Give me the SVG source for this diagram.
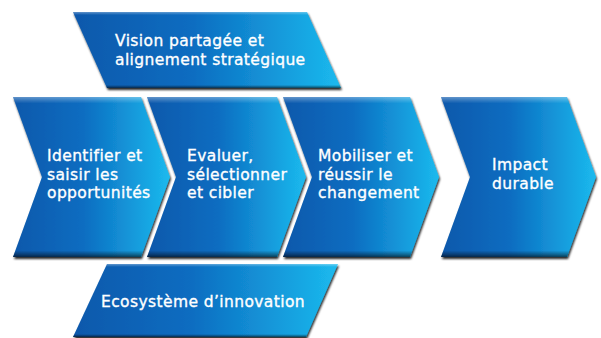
<svg xmlns="http://www.w3.org/2000/svg" width="601" height="338" viewBox="0 0 601 338">
<defs>
<linearGradient id="fill" x1="0" y1="0" x2="1" y2="0">
<stop offset="0" stop-color="#0a58ab"/>
<stop offset="0.45" stop-color="#0c6dc1"/>
<stop offset="1" stop-color="#1bbaee"/>
</linearGradient>
<linearGradient id="bevel" x1="0" y1="0" x2="0" y2="1">
<stop offset="0" stop-color="#ffffff" stop-opacity="0.35"/>
<stop offset="0.025" stop-color="#ffffff" stop-opacity="0.12"/>
<stop offset="0.04" stop-color="#ffffff" stop-opacity="0"/>
<stop offset="0.96" stop-color="#000000" stop-opacity="0"/>
<stop offset="0.985" stop-color="#000000" stop-opacity="0.35"/>
<stop offset="1" stop-color="#000000" stop-opacity="0.6"/>
</linearGradient>
<filter id="shadow" x="-5%" y="-5%" width="115%" height="115%">
<feDropShadow dx="1" dy="2" stdDeviation="0.8" flood-color="#000" flood-opacity="0.85"/>
</filter>
</defs>
<style>
.shape{fill:url(#fill);filter:url(#shadow);}
.bev{fill:url(#bevel);}
text{font-family:"DejaVu Sans","Liberation Sans",sans-serif;font-size:15.5px;letter-spacing:0.4px;fill:#ffffff;stroke:#ffffff;stroke-width:0.35px;}
</style>
<g id="vision">
<polygon class="shape" points="73,12 307,12 341,88 107,88"/>
<polygon class="bev" points="73,12 307,12 341,88 107,88"/>
<text x="115" y="46">Vision partagée et<tspan x="115" dy="18.5">alignement stratégique</tspan></text>
</g>
<g id="identifier">
<polygon class="shape" points="13,97 141,97 170,177 141,257 13,257 42,177"/>
<polygon class="bev" points="13,97 141,97 170,177 141,257 13,257 42,177"/>
<text x="47" y="161">Identifier et<tspan x="47" dy="18.5">saisir les</tspan><tspan x="47" dy="18.5">opportunités</tspan></text>
</g>
<g id="evaluer">
<polygon class="shape" points="147,97 277,97 306,177 277,257 147,257 176,177"/>
<polygon class="bev" points="147,97 277,97 306,177 277,257 147,257 176,177"/>
<text x="187" y="161">Evaluer,<tspan x="187" dy="18.5">sélectionner</tspan><tspan x="187" dy="18.5">et cibler</tspan></text>
</g>
<g id="mobiliser">
<polygon class="shape" points="283,97 410,97 439,177 410,257 283,257 312,177"/>
<polygon class="bev" points="283,97 410,97 439,177 410,257 283,257 312,177"/>
<text x="318" y="161">Mobiliser et<tspan x="318" dy="18.5">réussir le</tspan><tspan x="318" dy="18.5">changement</tspan></text>
</g>
<g id="impact">
<polygon class="shape" points="441,97 567,97 596,177 567,257 441,257 470,177"/>
<polygon class="bev" points="441,97 567,97 596,177 567,257 441,257 470,177"/>
<text x="492" y="170">Impact<tspan x="492" dy="18.5">durable</tspan></text>
</g>
<g id="ecosysteme">
<polygon class="shape" points="107,264 338,264 306,337 73,337"/>
<polygon class="bev" points="107,264 338,264 306,337 73,337"/>
<text x="101" y="307">Ecosystème d’innovation</text>
</g>
</svg>
